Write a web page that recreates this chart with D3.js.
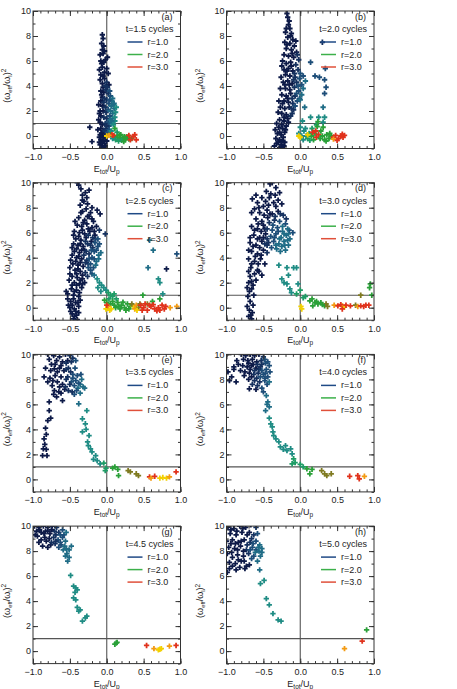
<!DOCTYPE html>
<html lang="en">
<head>
<meta charset="UTF-8">
<title>Effective frequency vs total energy</title>
<script src="https://d3js.org/d3.v7.min.js"></script>
<style>
  body { margin: 0; background: #fff; }
  svg { font-family: "Liberation Sans", Arial, sans-serif; font-size: 9px; }
  .axis text { font-size: 9px; fill: #222; }
  .axis line { stroke: #333; }
</style>
</head>
<body>
<div id="chart"></div>
<script>
// panel labels and times (cycles)
const panelLetters = ["a", "b", "c", "d", "e", "f", "g", "h"];
const cycleTimes = ["1.5", "2.0", "2.5", "3.0", "3.5", "4.0", "4.5", "5.0"];
const legendRadii = ["1.0", "2.0", "3.0"];
const xTicks = [-1, -0.5, 0, 0.5, 1];
const yTicks = [0, 2, 4, 6, 8, 10];

// points: [E_tot/U_p, (w_eff/w_l)^2, colour class 0 (navy) .. 10 (red)]
const ptsA = [[-0.06,8.1,0],[-0.05,7.8,0],[-0.07,7.4,0],[-0.04,7.2,0],
  [-0.09,6.5,0],[-0.05,6.6,0],[-0.02,6.1,0],[0.01,6.3,0],[-0.08,6.0,0],
  [-0.1,5.3,0],[-0.06,5.5,0],[-0.03,5.1,0],[0.0,5.4,0],[0.02,5.0,0],[-0.08,4.9,0],
  [-0.09,4.5,0],[-0.06,4.2,0],[-0.03,4.6,0],[0.0,4.3,1],[0.03,4.1,0],[-0.05,3.9,0],
  [-0.08,3.6,0],[-0.04,3.5,0],[-0.01,3.7,1],[0.02,3.4,1],[0.05,3.2,2],[-0.06,3.1,0],
  [-0.08,2.8,0],[-0.04,2.7,1],[0.0,2.9,1],[0.03,2.6,2],[0.07,2.8,3],[0.09,2.5,3],[-0.06,2.4,0],[-0.02,2.3,1],
  [-0.09,2.0,0],[-0.05,2.0,0],[-0.01,1.9,1],[0.02,2.1,2],[0.05,2.0,3],[0.08,1.8,3],[0.1,2.2,3],
  [-0.08,1.6,0],[-0.04,1.5,1],[0.0,1.4,1],[0.04,1.6,2],[0.08,1.4,3],[0.11,1.5,4],
  [-0.09,1.1,0],[-0.06,0.9,0],[-0.02,1.0,1],[0.02,1.1,2],[0.06,1.0,3],
  [-0.08,0.6,0],[-0.05,0.4,0],[-0.01,0.6,1],[0.03,0.5,2],
  [-0.09,0.1,0],[-0.06,0.0,0],[-0.03,0.2,0],[0.01,0.1,1],
  [-0.08,-0.3,0],[-0.05,-0.4,0],[-0.02,-0.2,0],
  [-0.09,-0.7,0],[-0.06,-0.8,0],[-0.03,-0.6,0],[-0.07,-0.95,0],[-0.04,-0.95,0],
  [-0.11,2.5,0],[-0.1,1.8,0],[-0.11,1.3,0],[-0.12,0.5,0],[-0.1,-0.1,0],[-0.1,-0.5,0],[-0.07,3.3,0],[-0.03,3.0,1],
  [0.04,2.9,2],[0.06,2.4,3],[0.12,1.9,4],[0.11,1.2,4],[0.07,1.2,3],[0.03,0.8,2],[0.0,0.8,1],[-0.03,0.4,1],
  [-0.07,0.2,0],[-0.04,-0.1,0],[0.0,-0.4,0],[-0.02,-0.8,0],[-0.08,-0.55,0],[-0.05,4.8,0],[-0.02,4.0,1],[0.01,3.9,1],
  [-0.07,5.8,0],[-0.04,5.9,0],[-0.06,6.9,0],[-0.03,6.8,0],[0.04,3.6,2],[0.08,3.0,3],[0.1,2.6,3],[0.13,2.3,4],
  [0.05,1.3,3],[0.09,0.9,4],[0.02,0.3,2],[0.06,0.4,4],
  [-0.23,0.7,0],[-0.2,-0.45,0],
  [0.11,0.6,6],[0.14,0.3,5],[0.05,0.1,6],[0.1,0.0,6],[0.14,-0.1,6],[0.18,-0.2,6],[0.22,-0.15,6],
  [0.25,-0.3,6],[0.27,-0.05,6],[0.3,-0.25,6],[0.34,-0.2,6],[0.12,-0.3,5],[0.08,-0.2,4],[0.17,0.05,6],[0.2,-0.35,5],
  [0.19,0.1,6],[0.24,-0.05,6],[0.29,-0.1,6],[0.16,-0.4,5],[0.23,-0.45,6],[0.26,-0.15,6],
  [0.07,0.1,10],[0.09,0.05,10],[0.36,-0.05,10],[0.4,-0.3,10],[0.38,0.1,10],[0.32,-0.3,10],[0.3,0.05,10],
  [0.0,0.0,8],[0.03,0.05,9]];

const ptsB = [[-0.18,9.8,0],[-0.17,9.5,0],[-0.16,8.9,0],[-0.14,8.6,0],[-0.2,8.3,0],[-0.12,8.2,0],[-0.17,7.9,0],
  [-0.1,7.7,0],[-0.21,7.5,0],[-0.14,7.4,0],[-0.06,7.6,0],
  [-0.19,7.0,0],[-0.12,6.9,0],[-0.05,6.7,0],[-0.22,6.5,0],[-0.16,6.4,0],[-0.09,6.3,0],[-0.02,6.1,1],
  [-0.24,6.0,0],[-0.19,5.8,0],[-0.13,5.9,0],[-0.06,5.7,1],
  [-0.22,5.3,0],[-0.16,5.4,0],[-0.1,5.2,0],[-0.03,5.3,1],[0.0,5.0,2],[-0.2,4.9,0],[-0.14,4.8,0],[-0.07,4.7,1],
  [-0.23,4.3,0],[-0.17,4.4,0],[-0.11,4.2,0],[-0.05,4.3,1],[0.02,4.1,2],[0.07,4.4,3],[-0.2,3.8,0],[-0.14,3.7,0],
  [-0.08,3.9,1],[-0.02,3.6,2],
  [-0.25,3.3,0],[-0.19,3.2,0],[-0.13,3.4,0],[-0.07,3.2,1],[-0.01,3.0,2],[-0.22,2.8,0],[-0.16,2.7,0],[-0.1,2.6,1],[-0.04,2.8,2],
  [-0.27,2.3,0],[-0.21,2.2,0],[-0.15,2.3,0],[-0.09,2.1,1],[-0.25,1.8,0],[-0.19,1.7,0],[-0.13,1.6,1],
  [-0.28,1.3,0],[-0.22,1.2,0],[-0.16,1.1,0],
  [-0.29,0.7,0],[-0.24,0.6,0],[-0.19,0.8,0],[-0.31,0.2,0],[-0.26,0.1,0],[-0.21,0.3,0],[-0.33,-0.2,0],[-0.28,-0.3,0],[-0.23,-0.1,0],
  [-0.32,-0.6,0],[-0.26,-0.7,0],[-0.21,-0.5,0],[-0.28,-0.95,0],[-0.24,-0.9,0],
  [-0.15,9.2,0],[-0.19,8.6,0],[-0.13,8.0,0],[-0.08,7.2,0],[-0.18,7.3,0],[-0.11,6.6,0],[-0.04,6.5,1],[-0.25,5.6,0],
  [-0.18,5.2,0],[-0.12,5.6,0],[-0.08,5.0,1],[-0.01,4.6,2],[0.04,4.8,2],[-0.26,4.7,0],[-0.21,4.1,0],[-0.15,4.1,0],
  [-0.09,4.5,1],[-0.03,4.0,2],[0.04,3.8,3],[-0.27,3.8,0],[-0.17,3.0,0],[-0.11,3.0,1],[-0.05,3.4,2],[0.02,3.3,3],
  [-0.29,2.8,0],[-0.24,2.6,0],[-0.12,2.2,1],[-0.07,2.4,2],[-0.3,1.9,0],[-0.22,1.5,0],[-0.17,1.4,0],[-0.11,1.8,1],
  [-0.32,1.0,0],[-0.25,0.9,0],[-0.2,0.5,0],[-0.34,0.5,0],[-0.28,0.3,0],[-0.3,-0.5,0],[-0.24,-0.4,0],[-0.35,-0.8,0],
  [-0.22,-0.8,0],
  [0.14,5.9,2],[0.2,4.8,2],[0.26,4.7,2],[0.33,4.5,2],[0.35,3.9,2],[0.33,3.4,2],[0.31,2.3,3],[0.33,1.5,4],
  [0.31,1.1,4],[0.25,1.5,4],[0.22,0.9,5],[0.14,1.5,4],[0.0,2.9,3],[0.06,2.3,3],[0.3,7.5,1],[0.34,5.4,2],
  [0.0,0.7,4],[0.03,1.2,4],[0.05,0.4,4],[-0.02,0.2,4],[0.08,0.0,4],[0.04,-0.3,4],[0.12,0.2,5],[0.1,-0.2,5],
  [0.15,0.0,6],[0.18,-0.3,6],[0.2,0.2,6],[0.23,0.75,6],[0.31,0.7,6],[0.24,1.15,6],[0.22,-0.1,10],[0.25,0.1,10],
  [0.27,-0.2,6],[0.3,0.0,6],[0.33,-0.3,6],[0.36,0.1,6],[0.39,-0.2,6],[0.42,0.0,6],[0.45,-0.1,10],[0.48,0.05,10],
  [0.52,-0.2,10],[0.55,0.0,10],[0.58,-0.1,10],[0.6,0.05,10],[0.45,-0.25,9],
  [0.07,0.6,4],[0.02,0.0,4],[0.13,-0.35,5],[0.28,0.4,6],[0.35,-0.4,6],[0.4,0.2,6],[0.5,-0.35,10],[0.57,0.15,10],[0.16,0.6,5],
  [-0.02,0.0,8],[0.0,-0.1,8],[0.1,0.1,8],[0.17,0.3,10],[0.21,0.4,10]];

const ptsC = [[-0.4,10.0,0],[-0.38,9.8,0],[-0.24,9.4,0],[-0.33,9.0,0],[-0.29,9.2,0],[-0.31,8.5,0],[-0.36,8.2,0],
  [-0.26,8.3,0],[-0.13,7.8,0],[-0.09,7.5,0],[-0.33,7.7,0],[-0.22,7.6,0],
  [-0.38,7.2,0],[-0.3,7.0,0],[-0.24,7.3,0],[-0.18,6.9,0],[-0.4,6.6,0],[-0.34,6.5,0],[-0.27,6.7,0],[-0.2,6.4,0],
  [-0.14,6.5,0],[-0.37,6.0,0],[-0.3,5.9,0],[-0.23,6.1,0],[-0.16,5.8,0],
  [-0.42,5.5,0],[-0.35,5.4,0],[-0.28,5.6,0],[-0.21,5.3,0],[-0.15,5.5,1],[-0.39,5.0,0],[-0.32,4.9,0],[-0.26,5.1,1],
  [-0.19,4.8,1],[-0.12,4.9,2],
  [-0.44,4.5,0],[-0.37,4.4,0],[-0.3,4.6,0],[-0.24,4.3,1],[-0.17,4.5,2],[-0.11,4.2,3],[-0.41,4.0,0],[-0.34,3.9,0],
  [-0.27,3.8,1],[-0.2,4.0,2],[-0.14,3.7,3],
  [-0.46,3.5,0],[-0.39,3.4,0],[-0.32,3.3,0],[-0.25,3.5,1],[-0.18,3.2,2],[-0.43,3.0,0],[-0.36,2.9,0],[-0.29,2.8,1],[-0.22,3.0,2],
  [-0.47,2.5,0],[-0.4,2.4,0],[-0.33,2.3,0],[-0.26,2.5,1],[-0.44,2.0,0],[-0.37,1.9,0],[-0.3,2.0,0],[-0.48,1.5,0],
  [-0.41,1.4,0],[-0.34,1.6,0],[-0.53,1.1,0],[-0.45,1.0,0],[-0.38,0.9,0],
  [-0.49,0.5,0],[-0.42,0.4,0],[-0.36,0.6,0],[-0.5,0.0,0],[-0.44,-0.1,0],[-0.38,0.1,0],[-0.47,-0.5,0],[-0.41,-0.6,0],
  [-0.45,-0.9,0],[-0.4,-0.95,0],
  [-0.35,9.5,0],[-0.27,8.8,0],[-0.33,8.6,0],[-0.2,8.0,0],[-0.28,7.9,0],[-0.35,7.6,0],[-0.26,7.3,0],[-0.2,7.1,0],
  [-0.43,6.9,0],[-0.32,6.8,0],[-0.25,6.3,0],[-0.17,6.1,0],[-0.1,6.2,1],[-0.44,6.1,0],[-0.33,6.2,0],[-0.45,5.8,0],
  [-0.38,5.7,0],[-0.25,5.8,1],[-0.19,5.6,1],[-0.12,5.5,2],[-0.45,5.1,0],[-0.36,5.1,0],[-0.29,5.3,1],[-0.22,5.0,1],
  [-0.16,5.2,2],[-0.1,5.1,2],[-0.47,4.8,0],[-0.41,4.7,0],[-0.34,4.6,0],[-0.28,4.5,1],[-0.21,4.6,2],[-0.14,4.6,2],
  [-0.08,4.4,3],[-0.47,4.2,0],[-0.38,4.1,0],[-0.31,4.2,1],[-0.24,3.9,2],[-0.17,3.9,2],[-0.11,3.9,3],[-0.49,3.8,0],
  [-0.42,3.7,0],[-0.36,3.6,0],[-0.29,3.6,1],[-0.22,3.5,2],[-0.15,3.4,3],[-0.5,3.2,0],[-0.39,3.1,0],[-0.33,2.6,0],
  [-0.25,3.2,2],[-0.2,2.7,2],[-0.5,2.7,0],[-0.41,2.7,0],[-0.36,2.2,0],[-0.51,2.2,0],[-0.47,1.8,0],[-0.41,1.8,0],
  [-0.33,1.9,0],[-0.55,1.3,0],[-0.44,1.3,0],[-0.37,1.2,0],[-0.53,0.7,0],[-0.45,0.7,0],[-0.39,0.4,0],[-0.52,0.2,0],
  [-0.47,0.2,0],[-0.42,-0.3,0],[-0.49,-0.3,0],[-0.44,-0.7,0],[-0.38,-0.4,0],
  [-0.17,2.6,3],[-0.13,2.3,4],[-0.1,2.0,4],[-0.07,1.8,4],[-0.04,1.6,4],[-0.01,1.4,4],[-0.12,1.6,4],[-0.08,1.3,4],
  [0.02,1.2,5],[0.05,1.0,5],[0.08,0.9,5],[0.1,1.1,5],[0.13,0.7,5],[0.03,0.7,5],
  [0.0,0.4,6],[-0.03,0.6,6],[0.05,0.3,6],[0.1,0.2,6],[0.15,0.4,6],[0.2,0.2,6],[0.24,0.0,6],[0.28,0.3,6],[0.32,0.1,6],
  [0.18,-0.1,6],[0.26,-0.2,6],[0.08,0.5,6],[0.12,0.0,6],[0.22,0.45,6],[0.3,-0.1,6],[0.16,0.1,6],
  [0.49,1.0,6],[0.72,0.7,6],[0.62,0.5,6],[0.55,0.3,7],
  [-0.01,-0.1,8],[0.02,0.1,9],[0.04,-0.2,8],[0.0,0.2,10],[0.36,0.1,8],[0.4,0.2,9],[0.43,0.0,7],[0.38,-0.1,9],
  [0.45,0.3,7],[0.34,0.3,7],[0.95,0.1,9],[0.86,0.0,9],[0.06,-0.1,8],[0.41,-0.2,8],
  [0.5,0.0,10],[0.55,-0.2,10],[0.6,0.1,10],[0.65,-0.1,10],[0.7,0.0,10],[0.75,0.2,10],[0.78,-0.1,10],[0.58,0.2,10],
  [0.68,-0.25,10],[0.46,0.2,10],[0.52,0.3,10],[0.63,0.25,10],[0.72,-0.2,10],[0.8,0.1,10],[0.48,-0.2,10],
  [-0.02,5.9,1],[0.58,5.4,3],[0.63,4.6,3],[0.56,3.2,3],[0.81,3.1,0],[0.95,4.3,2],[0.7,2.3,4],[0.72,2.0,4],[0.76,1.1,4]];

const ptsD = [[-0.38,10.0,0],[-0.41,9.9,0],[-0.33,9.6,0],[-0.46,9.3,0],[-0.28,9.2,0],[-0.65,8.7,0],[-0.58,8.4,0],
  [-0.42,8.8,0],[-0.36,8.4,0],[-0.3,8.6,0],[-0.5,8.1,0],[-0.25,8.3,0],
  [-0.62,7.9,0],[-0.55,7.6,0],[-0.45,7.8,0],[-0.38,7.5,0],[-0.3,7.7,0],[-0.23,7.4,1],[-0.6,7.1,0],[-0.52,6.9,0],
  [-0.44,7.2,0],[-0.19,7.1,1],
  [-0.66,6.5,0],[-0.58,6.3,0],[-0.5,6.6,0],[-0.15,6.2,2],[-0.63,5.8,0],[-0.55,5.6,0],[-0.47,5.9,0],[-0.68,5.2,0],
  [-0.6,5.0,0],[-0.52,5.3,0],[-0.45,5.0,1],
  [-0.66,4.5,0],[-0.58,4.3,0],[-0.5,4.6,0],[-0.7,3.9,0],[-0.62,3.7,0],[-0.54,3.9,0],[-0.48,3.5,0],[-0.67,3.2,0],
  [-0.58,3.0,0],[-0.52,2.6,0],[-0.68,2.5,0],
  [-0.7,2.0,0],[-0.64,1.8,0],[-0.69,1.3,0],[-0.63,1.0,0],[-0.68,0.5,0],[-0.64,0.2,0],[-0.69,-0.2,0],[-0.65,-0.4,0],
  [-0.7,-0.7,0],[-0.66,-0.9,0],[-0.6,2.2,0],[-0.56,2.9,0],
  [-0.6,9.0,0],[-0.52,8.8,0],[-0.47,8.5,0],[-0.4,9.1,0],[-0.34,9.0,0],[-0.56,8.0,0],[-0.43,8.2,0],[-0.33,8.1,0],
  [-0.66,7.6,0],[-0.49,7.4,0],[-0.41,7.5,0],[-0.34,7.3,1],[-0.27,7.5,1],[-0.57,6.7,0],[-0.48,6.3,0],[-0.53,6.1,0],
  [-0.62,6.2,0],[-0.68,5.6,0],[-0.58,5.5,0],[-0.5,5.6,0],[-0.45,5.5,1],[-0.64,4.9,0],[-0.55,4.8,0],[-0.48,5.1,1],
  [-0.7,4.6,0],[-0.61,4.1,0],[-0.53,4.2,0],[-0.45,4.4,1],[-0.66,3.5,0],[-0.57,3.5,0],[-0.7,2.9,0],[-0.62,2.7,0],
  [-0.66,2.1,0],[-0.72,1.6,0],[-0.66,1.5,0],[-0.71,0.9,0],[-0.72,0.1,0],[-0.67,-0.6,0],
  [-0.42,6.8,1],[-0.35,7.0,1],[-0.28,6.9,2],[-0.2,6.7,2],[-0.45,6.3,1],[-0.38,6.2,2],[-0.31,6.4,2],[-0.24,6.1,3],
  [-0.17,6.3,3],[-0.4,5.7,2],[-0.33,5.9,2],[-0.26,5.6,3],[-0.19,5.8,3],[-0.14,5.5,3],
  [-0.43,5.2,1],[-0.36,5.3,2],[-0.29,5.1,3],[-0.22,5.3,3],[-0.16,5.0,3],[-0.39,4.8,2],[-0.32,4.7,3],[-0.25,4.9,3],
  [-0.2,4.6,3],[-0.1,6.0,2],
  [-0.37,6.6,2],[-0.3,6.1,2],[-0.22,5.9,3],[-0.35,5.6,2],[-0.28,5.5,3],[-0.21,5.0,3],[-0.33,5.0,3],[-0.27,4.5,3],
  [-0.17,5.4,3],[-0.24,6.5,3],[-0.16,5.9,3],
  [-0.29,3.4,4],[-0.18,3.2,4],[-0.09,3.2,4],[-0.05,3.2,4],[-0.25,2.3,4],[-0.18,1.9,4],[-0.14,1.5,4],[-0.12,1.2,4],
  [-0.03,1.9,4],[0.0,1.4,5],[-0.05,1.1,5],[0.04,0.8,5],[-0.16,2.6,4],[-0.22,2.0,4],[0.07,0.9,5],
  [0.13,0.55,6],[0.16,0.7,6],[0.2,0.4,6],[0.24,0.3,6],[0.28,0.4,6],[0.17,0.15,6],[0.22,0.5,6],[0.33,0.15,6],
  [0.35,0.3,7],[0.3,0.25,6],[0.37,0.1,7],
  [0.01,0.1,8],[0.02,-0.1,8],[0.57,0.15,8],[0.6,0.05,8],
  [0.46,0.2,9],[0.51,0.15,10],[0.55,0.25,10],[0.62,0.2,10],[0.57,-0.1,10],[0.68,0.15,10],[0.75,0.2,7],[0.78,0.1,9],
  [0.82,0.15,10],[0.86,0.1,10],[0.89,0.2,10],[0.93,0.2,10],
  [0.95,1.9,6],[0.94,1.6,6],[0.97,1.0,6],[0.82,1.0,7]];

const ptsE = [[-0.8,10.0,0],[-0.72,9.9,0],[-0.64,9.8,0],[-0.56,10.0,0],[-0.5,9.9,1],[-0.46,9.7,1],[-0.68,9.5,0],
  [-0.6,9.4,0],[-0.53,9.5,0],[-0.75,9.2,0],
  [-0.71,8.85,0],[-0.76,8.7,0],[-0.64,8.9,0],[-0.58,8.7,0],[-0.85,8.2,0],[-0.7,8.3,0],[-0.62,8.2,0],[-0.8,7.8,0],
  [-0.74,7.5,0],[-0.67,7.8,0],[-0.6,7.6,0],[-0.65,7.0,0],[-0.71,7.1,0],[-0.57,7.2,0],
  [-0.6,6.3,0],[-0.78,6.2,0],[-0.78,5.5,0],[-0.76,4.9,0],[-0.8,4.7,0],[-0.83,4.1,0],[-0.85,3.25,0],[-0.86,2.45,0],
  [-0.87,1.9,0],[-0.82,2.4,0],[-0.81,1.9,0],[-0.72,6.8,0],
  [-0.78,9.6,0],[-0.7,9.2,0],[-0.62,9.1,0],[-0.55,9.3,1],[-0.48,9.4,1],[-0.42,9.5,2],[-0.83,8.9,0],[-0.67,8.6,0],
  [-0.52,8.9,1],[-0.46,8.4,2],[-0.77,8.1,0],[-0.73,7.9,0],[-0.64,7.4,0],[-0.55,8.0,1],[-0.48,7.8,2],[-0.42,7.9,2],
  [-0.36,7.6,3],[-0.52,7.1,1],[-0.44,6.8,2],[-0.68,6.6,0],[-0.62,6.9,0],[-0.35,8.4,2],[-0.39,7.3,3],[-0.84,2.8,0],
  [-0.82,3.6,0],
  [-0.55,8.8,1],[-0.49,8.6,1],[-0.43,8.9,2],[-0.53,8.2,1],[-0.46,8.1,2],[-0.4,8.3,2],[-0.34,8.0,3],[-0.5,7.6,1],
  [-0.44,7.5,2],[-0.38,7.7,2],[-0.32,7.4,3],[-0.56,7.4,1],[-0.41,7.1,2],[-0.47,7.0,1],[-0.36,6.9,3],[-0.3,7.3,3],
  [-0.38,6.05,3],[-0.27,5.5,4],[-0.33,4.85,4],[-0.29,4.45,4],[-0.33,3.8,4],[-0.24,3.5,4],[-0.26,3.0,4],[-0.22,2.45,4],
  [-0.2,2.2,4],[-0.15,1.9,4],[-0.13,1.5,4],[-0.09,1.25,4],[-0.04,1.3,5],[-0.01,0.9,5],[-0.02,0.7,5],[-0.28,4.0,4],
  [-0.25,2.7,4],[-0.18,1.6,4],
  [0.11,1.0,6],[0.15,0.8,6],[0.16,0.3,6],[0.08,0.9,6],
  [0.29,0.7,7],[0.32,0.6,7],[0.4,0.45,7],[0.43,0.3,7],
  [0.58,0.2,10],[0.65,0.25,10],[0.94,0.6,10],
  [0.6,0.1,9],[0.72,0.1,8],[0.76,0.15,8],[0.81,0.1,8],[0.85,0.2,9]];

const ptsF = [[-0.8,10.0,0],[-0.74,9.9,0],[-0.68,10.0,0],[-0.62,9.9,0],[-0.56,10.0,0],[-0.5,9.8,1],[-0.77,9.6,0],
  [-0.71,9.5,0],[-0.65,9.6,0],[-0.59,9.4,0],[-0.53,9.5,1],[-0.47,9.3,2],
  [-0.84,9.2,0],[-0.78,9.1,0],[-0.72,9.0,0],[-0.66,9.1,0],[-0.6,8.9,0],[-0.54,9.0,1],[-0.46,8.8,2],[-0.42,9.1,2],
  [-0.9,8.8,0],[-0.98,8.6,0],[-0.81,8.7,0],[-0.75,8.6,0],[-0.69,8.5,0],[-0.63,8.4,1],[-0.57,8.5,1],[-0.5,8.4,2],
  [-0.44,8.2,2],
  [-0.96,7.9,0],[-0.87,7.8,0],[-0.93,8.2,0],[-0.69,7.25,0],[-0.6,7.2,0],[-0.7,8.0,0],[-0.62,7.9,1],[-0.55,7.8,1],
  [-0.48,7.9,2],[-0.45,7.6,2],[-0.52,7.3,2],
  [-0.86,9.5,0],[-0.7,9.3,0],[-0.64,9.2,0],[-0.58,9.2,1],[-0.52,9.2,1],[-0.48,9.6,2],[-0.44,9.4,2],[-0.76,8.3,0],
  [-0.68,8.8,0],[-0.62,8.7,1],[-0.56,8.8,1],[-0.52,8.7,2],[-0.47,8.5,2],[-0.41,8.6,2],[-0.66,8.2,0],[-0.59,8.1,1],
  [-0.54,8.2,2],[-0.48,8.1,2],[-0.42,7.8,3],[-0.65,7.6,1],[-0.58,7.5,1],[-0.5,7.0,2],[-0.46,6.7,3],[-0.9,9.0,0],
  [-0.44,6.2,3],[-0.42,5.8,3],[-0.47,5.5,3],[-0.45,6.0,3],[-0.4,4.45,4],[-0.38,4.2,4],[-0.42,4.9,4],[-0.36,3.5,4],
  [-0.33,3.25,4],[-0.29,3.0,4],[-0.27,2.6,4],[-0.2,2.7,4],[-0.18,2.3,4],[-0.13,2.45,4],[-0.11,2.05,4],[-0.09,1.65,5],
  [-0.07,1.35,5],[-0.11,1.25,5],[-0.23,2.4,4],[-0.37,3.8,4],
  [0.04,1.0,5],[0.0,1.2,5],[0.09,0.85,6],[0.13,0.45,6],[0.16,0.8,6],
  [0.29,0.7,7],[0.33,0.45,7],[0.36,0.3,7],[0.42,0.45,7],
  [0.67,0.25,10],[0.78,0.3,10],[0.8,0.05,10],[0.87,0.25,9]];

const ptsG = [[-0.98,10.0,0],[-0.92,9.9,0],[-0.86,10.0,0],[-0.8,9.9,0],[-0.74,10.0,0],[-0.68,9.9,1],[-0.95,9.6,0],
  [-0.89,9.5,0],[-0.83,9.6,0],[-0.77,9.4,0],[-0.71,9.6,1],[-0.65,9.5,1],[-0.6,9.7,2],
  [-0.94,9.2,0],[-0.89,8.9,0],[-0.84,9.1,0],[-0.78,9.0,0],[-0.72,9.1,1],[-0.66,8.9,2],[-0.6,9.1,2],[-0.56,8.8,3],
  [-0.87,8.4,0],[-0.76,8.5,0],[-0.8,8.3,0],[-0.7,8.6,1],[-0.65,8.3,2],[-0.62,8.5,2],[-0.57,8.4,3],
  [-0.97,9.3,0],[-0.91,9.7,0],[-0.85,9.4,0],[-0.8,9.6,0],[-0.75,9.7,0],[-0.69,9.3,1],[-0.63,9.3,2],[-0.58,9.3,2],
  [-0.55,9.5,3],[-0.82,8.8,0],[-0.75,8.7,1],[-0.69,8.8,1],[-0.63,8.7,2],[-0.59,8.1,3],[-0.55,8.2,3],[-0.92,8.7,0],
  [-0.56,7.6,3],[-0.48,8.4,3],
  [-0.51,8.1,3],[-0.54,7.8,3],[-0.51,7.5,3],[-0.53,7.2,3],[-0.49,6.05,4],[-0.45,5.2,4],[-0.42,5.05,4],[-0.4,4.9,4],
  [-0.43,4.7,4],[-0.45,4.25,4],[-0.42,4.1,4],[-0.4,3.5,4],[-0.36,3.3,4],[-0.38,3.2,4],[-0.33,2.4,4],[-0.27,2.8,4],
  [-0.29,2.65,4],
  [0.11,0.55,6],[0.13,0.65,6],[0.14,0.7,6],
  [0.54,0.45,10],[0.64,0.2,9],[0.7,0.1,8],[0.72,0.15,8],[0.74,0.2,8],[0.85,0.4,9],[0.94,0.45,10]];

const ptsH = [[-0.98,9.9,0],[-0.9,9.8,0],[-0.82,10.0,0],[-0.74,9.9,0],[-0.67,10.1,0],[-0.6,9.9,1],[-0.95,9.4,0],
  [-0.87,9.3,0],[-0.79,9.5,0],[-0.69,9.5,0],[-0.63,9.3,1],
  [-1.0,8.8,0],[-0.92,8.9,0],[-0.84,8.7,0],[-0.76,8.9,0],[-0.68,8.7,1],[-0.6,8.8,2],[-0.55,8.5,3],[-0.97,8.3,0],
  [-0.89,8.2,0],[-0.81,8.4,0],[-0.73,8.1,1],[-0.65,8.3,2],[-0.6,8.1,2],[-0.56,8.0,3],
  [-0.99,7.8,0],[-0.92,7.5,0],[-0.85,7.7,0],[-0.77,7.6,0],[-0.7,7.8,1],[-0.63,7.6,2],[-0.54,7.6,3],[-0.96,7.1,0],
  [-0.88,7.0,0],[-0.8,7.2,0],[-0.69,6.9,0],[-0.99,6.3,0],[-0.87,6.5,0],[-0.75,6.6,0],[-0.58,7.2,3],
  [-0.94,9.7,0],[-0.86,9.6,0],[-0.78,9.8,0],[-0.72,9.3,0],[-0.66,9.0,1],[-0.58,9.4,2],[-0.94,8.6,0],[-0.88,8.6,0],
  [-0.8,8.8,0],[-0.72,8.5,1],[-0.64,8.6,2],[-0.57,8.3,3],[-0.52,8.2,3],[-0.93,7.9,0],[-0.85,8.1,0],[-0.77,8.0,0],
  [-0.68,8.1,2],[-0.61,7.9,3],[-0.52,7.9,3],[-0.84,7.3,0],[-0.76,7.2,0],[-0.73,6.8,0],[-0.66,7.4,2],[-0.92,6.8,0],
  [-0.82,6.7,0],[-0.96,6.6,0],
  [-0.55,6.5,3],[-0.49,5.65,4],[-0.54,5.4,4],[-0.46,4.2,4],[-0.42,3.7,4],[-0.37,3.0,4],[-0.3,2.5,4],[-0.26,2.4,4],
  [0.9,1.7,6],[0.84,0.8,10],[0.6,0.2,9]];

const panels = [ptsA, ptsB, ptsC, ptsD, ptsE, ptsF, ptsG, ptsH];

const palette = ["#0d1a48", "#15315f", "#1d4d78", "#1f6c86", "#1f8c84", "#1e9c66",
                 "#2aa038", "#7f7a20", "#f2d000", "#f39a12", "#e0321c"];
const color = d3.scaleOrdinal().domain(d3.range(11)).range(palette);
const legendColor = d3.scaleOrdinal().domain(legendRadii).range(["#1f4a86", "#3cb04a", "#e0503a"]);

const svg = d3.select("#chart").append("svg").attr("width", 457).attr("height", 689);

const colLeft = [33, 226.5], pw = 147.5, ph = 137.5, top0 = 11, rowStep = 171.7;
const symbol = d3.symbol().type(d3.symbolCross).size(16);
const fmtX = d3.format(".1f");

panels.forEach(function(pts, i) {
    const left = colLeft[i % 2], top = top0 + Math.floor(i / 2) * rowStep;
    const x = d3.scaleLinear().domain([-1, 1]).range([left, left + pw]);
    const y = d3.scaleLinear().domain([-1, 10]).range([top + ph, top]);
    const g = svg.append("g");

    g.append("clipPath").attr("id", "clip" + i)
      .append("rect").attr("x", left).attr("y", top).attr("width", pw).attr("height", ph);

    // reference lines at E=0 and ratio=1
    g.append("line").attr("x1", x(0)).attr("x2", x(0)).attr("y1", y(-1)).attr("y2", y(10))
      .attr("stroke", "#555").attr("stroke-width", 1.1);
    g.append("line").attr("x1", x(-1)).attr("x2", x(1)).attr("y1", y(1)).attr("y2", y(1))
      .attr("stroke", "#555").attr("stroke-width", 1.1);

    g.append("g").attr("clip-path", `url(#clip${i})`)
      .selectAll("path").data(pts).join("path")
      .attr("transform", d => `translate(${x(d[0])},${y(d[1])})`)
      .attr("d", symbol)
      .attr("fill", d => color(d[2]));

    // axes: major + minor ticks inside on all sides
    const minorX = d3.range(-10, 11).map(k => k / 10);
    const minorY = d3.range(-1, 11);
    const noDomain = s => s.select(".domain").remove();

    g.append("g").attr("class", "axis").attr("transform", `translate(0,${top + ph})`)
      .call(d3.axisBottom(x).tickValues(xTicks).tickSize(-5).tickPadding(5).tickFormat(fmtX)).call(noDomain);
    g.append("g").attr("class", "axis").attr("transform", `translate(0,${top + ph})`)
      .call(d3.axisBottom(x).tickValues(minorX).tickSize(-2.5).tickFormat("")).call(noDomain);
    g.append("g").attr("class", "axis").attr("transform", `translate(0,${top})`)
      .call(d3.axisTop(x).tickValues(xTicks).tickSize(-5).tickFormat("")).call(noDomain);
    g.append("g").attr("class", "axis").attr("transform", `translate(0,${top})`)
      .call(d3.axisTop(x).tickValues(minorX).tickSize(-2.5).tickFormat("")).call(noDomain);
    g.append("g").attr("class", "axis").attr("transform", `translate(${left},0)`)
      .call(d3.axisLeft(y).tickValues(yTicks).tickSize(-5).tickPadding(2)).call(noDomain);
    g.append("g").attr("class", "axis").attr("transform", `translate(${left},0)`)
      .call(d3.axisLeft(y).tickValues(minorY).tickSize(-2.5).tickFormat("")).call(noDomain);
    g.append("g").attr("class", "axis").attr("transform", `translate(${left + pw},0)`)
      .call(d3.axisRight(y).tickValues(yTicks).tickSize(-5).tickFormat("")).call(noDomain);
    g.append("g").attr("class", "axis").attr("transform", `translate(${left + pw},0)`)
      .call(d3.axisRight(y).tickValues(minorY).tickSize(-2.5).tickFormat("")).call(noDomain);

    g.append("rect").attr("x", left).attr("y", top).attr("width", pw).attr("height", ph)
      .attr("fill", "none").attr("stroke", "#333").attr("stroke-width", 1);

    // x title
    const xt = g.append("text").attr("x", x(0)).attr("y", top + ph + 23)
      .attr("text-anchor", "middle").attr("fill", "#222");
    xt.append("tspan").text("E");
    xt.append("tspan").attr("dy", 2).attr("font-size", 6.5).text("tot");
    xt.append("tspan").attr("dy", -2).text("/U");
    xt.append("tspan").attr("dy", 2).attr("font-size", 6.5).text("p");

    // y title
    const yt = g.append("text")
      .attr("transform", `translate(${left - 23.5},${top + ph / 2 + 6}) rotate(-90)`)
      .attr("text-anchor", "middle").attr("fill", "#222");
    yt.append("tspan").text("(ω");
    yt.append("tspan").attr("dy", 2).attr("font-size", 6).text("eff");
    yt.append("tspan").attr("dy", -2).text("/ω");
    yt.append("tspan").attr("dy", 2).attr("font-size", 6).text("l");
    yt.append("tspan").attr("dy", -2).text(")");
    yt.append("tspan").attr("dy", -3.5).attr("font-size", 6.5).text("2");

    // panel letter and time
    const right = left + pw;
    g.append("text").attr("x", right - 8).attr("y", top + 8.5)
      .attr("text-anchor", "end").attr("fill", "#222").text(`(${panelLetters[i]})`);
    g.append("text").attr("x", right - 7).attr("y", top + 21)
      .attr("text-anchor", "end").attr("fill", "#222").text(`t=${cycleTimes[i]} cycles`);

    // legend
    legendRadii.forEach(function(r, k) {
        const ly = top + 31 + k * 12.5;
        g.append("line").attr("x1", right - 53).attr("x2", right - 38).attr("y1", ly).attr("y2", ly)
          .attr("stroke", legendColor(r)).attr("stroke-width", 1.5);
        g.append("text").attr("x", right - 33).attr("y", ly + 3).attr("fill", "#222").text(`r=${r}`);
    });
});
</script>
</body>
</html>
